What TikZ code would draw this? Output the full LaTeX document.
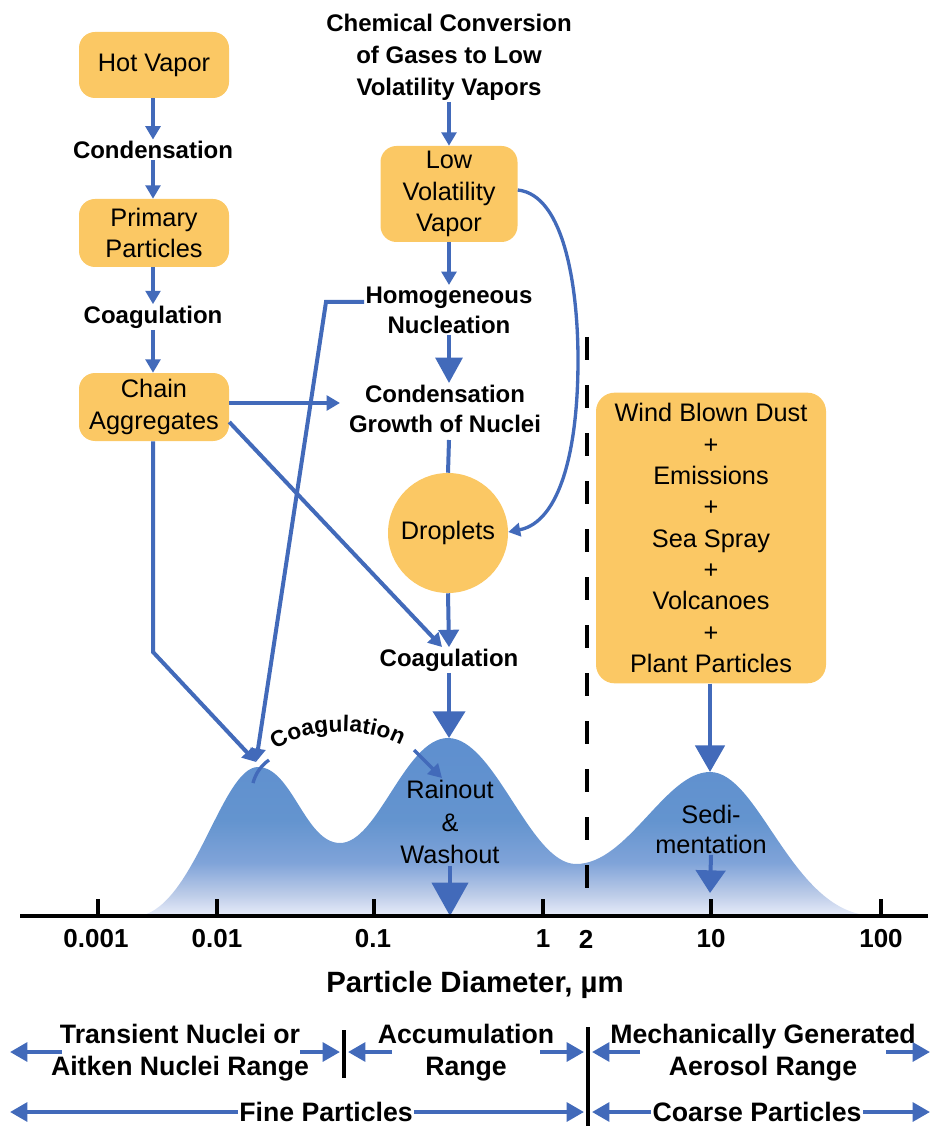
\documentclass[tikz,border=0pt]{standalone}
\usepackage{fontspec}
\setmainfont{Liberation Sans}
\usetikzlibrary{arrows.meta,decorations.text}
\definecolor{boxfill}{RGB}{251,200,100}
\definecolor{arrowblue}{RGB}{66,106,186}
\pgfdeclareverticalshading{distshade}{100bp}{%
  rgb(0bp)=(0.91,0.93,0.98);
  rgb(25bp)=(0.91,0.93,0.98);
  rgb(31bp)=(0.74,0.80,0.91);
  rgb(40bp)=(0.50,0.64,0.85);
  rgb(52bp)=(0.39,0.58,0.81);
  rgb(75bp)=(0.37,0.56,0.81);
  rgb(100bp)=(0.37,0.56,0.81)}
\begin{document}
\begin{tikzpicture}[x=0.75pt,y=-0.75pt,
  box/.style={fill=boxfill, rounded corners=12pt, align=center, inner sep=0pt,
    font=\fontsize{19}{23.5}\selectfont},
  blab/.style={align=center, inner sep=1pt, font=\fontsize{18}{23.5}\selectfont\bfseries},
  rlab/.style={align=center, inner sep=1pt, font=\fontsize{19}{24}\selectfont},
  axlab/.style={inner sep=0pt, font=\fontsize{19.5}{20}\selectfont\bfseries},
  rangelab/.style={align=center, inner sep=1pt, font=\fontsize{20}{24}\selectfont\bfseries},
  flow/.style={draw=arrowblue, line width=3pt},
  sarr/.style={flow, -{Triangle[width=11pt,length=10pt]}},
  marr/.style={flow, -{Triangle[width=15pt,length=13pt]}},
  rarr/.style={draw=arrowblue, line width=3pt, -{Triangle[width=14pt,length=13pt]}},
  blackbar/.style={draw=black, line width=3pt}
]
\useasboundingbox (0,0) rectangle (933,1126);

% ---------- size distribution ----------
\shade[shading=distshade]
  (140,916) .. controls (195,905) and (222,767) .. (258,767)
  .. controls (292,767) and (305,843) .. (340,843)
  .. controls (378,843) and (405,738) .. (448,738)
  .. controls (495,738) and (530,864) .. (576,864)
  .. controls (628,864) and (665,772) .. (710,772)
  .. controls (758,772) and (790,905) .. (865,915) -- cycle;

\coordinate (peak1) at (256,762);
\coordinate (peak2) at (449,738);
\coordinate (peak3) at (710,772);

% ---------- left column ----------
\node[box, minimum width=112.5pt, minimum height=49.5pt] (hot) at (154,65) {Hot Vapor};
\node[blab] (cond1) at (153,150) {Condensation};
\node[box, minimum width=112.5pt, minimum height=51pt] (prim) at (154,233) {Primary\\Particles};
\node[blab] (coag1) at (153,317) {Coagulation};
\node[box, minimum width=112.5pt, minimum height=51pt] (chain) at (154,407) {Chain\\Aggregates};

\draw[sarr] (hot.south -| cond1) -- (cond1.north);
\draw[sarr] (cond1.south) -- (prim.north -| cond1);
\draw[sarr] (prim.south -| coag1) -- (coag1.north);
\draw[sarr] (coag1.south) -- (chain.north -| coag1);

% ---------- middle column ----------
\node[blab, font=\fontsize{18}{24}\selectfont\bfseries] (chem) at (449,57) {Chemical Conversion\\of Gases to Low\\Volatility Vapors};
\node[box, minimum width=102.75pt, minimum height=72pt] (lvv) at (449,194) {Low\\Volatility\\Vapor};
\node[blab, font=\fontsize{18}{22.5}\selectfont\bfseries] (homo) at (449,310) {Homogeneous\\Nucleation};
\node[blab, font=\fontsize{18}{22.5}\selectfont\bfseries] (cgn) at (445,409) {Condensation\\Growth of Nuclei};
\node[circle, fill=boxfill, minimum size=90pt, inner sep=0pt, font=\fontsize{19}{23.5}\selectfont] (drop) at (448,533) {Droplets};
\node[blab] (coag2) at (449,660) {Coagulation};

\draw[sarr] (chem.south) -- (lvv.north);
\draw[sarr] (lvv.south) -- (homo.north);
\draw[flow, -{Triangle[width=20pt,length=19pt]}] (homo.south) -- (449,383);
\draw[flow] (449,440) -- (drop.north);
\draw[marr] (drop.south) -- (coag2.north);
\draw[flow, -{Triangle[width=24pt,length=20pt]}] (coag2.south) -- (peak2);

% curved arrow Low Volatility Vapor -> Droplets
\draw[draw=arrowblue, line width=2.5pt, -{Triangle[width=10pt,length=9pt]}]
  (lvv.east |- 0,190) .. controls (565,195) and (578,290) .. (578,360)
  .. controls (578,450) and (560,522) .. (drop.east |- 0,532);

% chain aggregates connectors
\draw[sarr] (chain.east |- 0,403) -- (340,403);
\draw[sarr] (chain.east |- 0,422) -- (442,647);
\draw[sarr] (chain.south -| 153,0) -- (153,652) -- (peak1);
\draw[sarr] (homo.west |- 0,302) -- (326,302) -- (peak1);

% ---------- right box ----------
\node[box, rounded corners=14pt, minimum width=172.5pt, minimum height=218pt] (wind) at (711,538)
  {Wind Blown Dust\\+\\Emissions\\+\\Sea Spray\\+\\Volcanoes\\+\\Plant Particles};
\draw[flow, -{Triangle[width=22pt,length=20pt]}] (wind.south -| peak3) -- (peak3);

% dashed 2 micron line
\coordinate (dashtop) at (587,337);
\coordinate (dashbot) at (587,888);
\draw[black, line width=3pt, dash pattern=on 17pt off 19pt] (dashtop) -- (dashbot);

% ---------- curved coagulation between modes ----------
\draw[draw=arrowblue, line width=2.5pt] (253,783) .. controls (256,772) and (262,765) .. (269,760);
\path[decorate, decoration={text along path, text align=center,
   text={|\fontsize{17}{17}\selectfont\bfseries|Coagulation}}]
   (266,758) .. controls (296,724) and (376,724) .. (412,752);
\coordinate (cg1) at (414,750);
\coordinate (cg2) at (442,778);
\draw[sarr, line width=2.5pt] (cg1) -- (cg2);

% labels inside modes
\node[rlab, font=\fontsize{19}{24.5}\selectfont] (rain) at (450,822) {Rainout\\\&\\Washout};
\draw[flow, -{Triangle[width=27pt,length=25pt]}] (rain.south) -- (450,916);
\node[rlab, font=\fontsize{19}{22.5}\selectfont] (sedi) at (711,829) {Sedi-\\mentation};
\draw[flow, -{Triangle[width=22pt,length=17pt]}] (sedi.south) -- (710,893);

% ---------- axis ----------
\coordinate (axL) at (20,916);
\coordinate (axR) at (928,916);
\draw[black, line width=3pt] (axL) -- (axR);
\foreach \x/\name in {98/t1,217/t2,374/t3,543/t4,711/t5,881/t6}{
  \coordinate (\name a) at (\x,899);
  \coordinate (\name b) at (\x,916);
  \draw[black, line width=2.5pt] (\name a) -- (\name b);
}
\node[axlab] (l1) at (96,939) {0.001};
\node[axlab] (l2) at (217,939) {0.01};
\node[axlab] (l3) at (373,939) {0.1};
\node[axlab] (l4) at (543,939) {1};
\node[axlab] (l5) at (586,939) {2};
\node[axlab] (l6) at (711,939) {10};
\node[axlab] (l7) at (881,939) {100};
\node[inner sep=1pt, font=\fontsize{22}{24}\selectfont\bfseries] (pd) at (475,985) {Particle Diameter, µm};

% ---------- ranges ----------
\node[rangelab] (trans) at (180,1053) {Transient Nuclei or\\Aitken Nuclei Range};
\node[rangelab] (accum) at (466,1053) {Accumulation\\Range};
\node[rangelab] (mech) at (763,1053) {Mechanically Generated\\Aerosol Range};
\node[rangelab] (fine) at (326,1112) {Fine Particles};
\node[rangelab] (coarse) at (757,1112) {Coarse Particles};

\coordinate (bar1t) at (344,1030);
\coordinate (bar1b) at (344,1078);
\coordinate (bar2t) at (588,1027);
\coordinate (bar2b) at (588,1126);
\draw[blackbar] (bar1t) -- (bar1b);
\draw[blackbar] (bar2t) -- (bar2b);

\coordinate (r1a) at (62,1052);  \coordinate (r1b) at (10,1052);
\coordinate (r2a) at (300,1052); \coordinate (r2b) at (340,1052);
\coordinate (r3a) at (392,1052); \coordinate (r3b) at (348,1052);
\coordinate (r4a) at (540,1052); \coordinate (r4b) at (584,1052);
\coordinate (r5a) at (640,1052); \coordinate (r5b) at (592,1052);
\coordinate (r6a) at (886,1052); \coordinate (r6b) at (930,1052);
\draw[rarr] (r1a) -- (r1b);
\draw[rarr] (r2a) -- (r2b);
\draw[rarr] (r3a) -- (r3b);
\draw[rarr] (r4a) -- (r4b);
\draw[rarr] (r5a) -- (r5b);
\draw[rarr] (r6a) -- (r6b);

\coordinate (f1) at (10,1112);
\coordinate (f2) at (584,1112);
\coordinate (c1) at (592,1112);
\coordinate (c2) at (930,1112);
\draw[rarr] (fine.west) -- (f1);
\draw[rarr] (fine.east) -- (f2);
\draw[rarr] (coarse.west) -- (c1);
\draw[rarr] (coarse.east) -- (c2);
\end{tikzpicture}
\end{document}
